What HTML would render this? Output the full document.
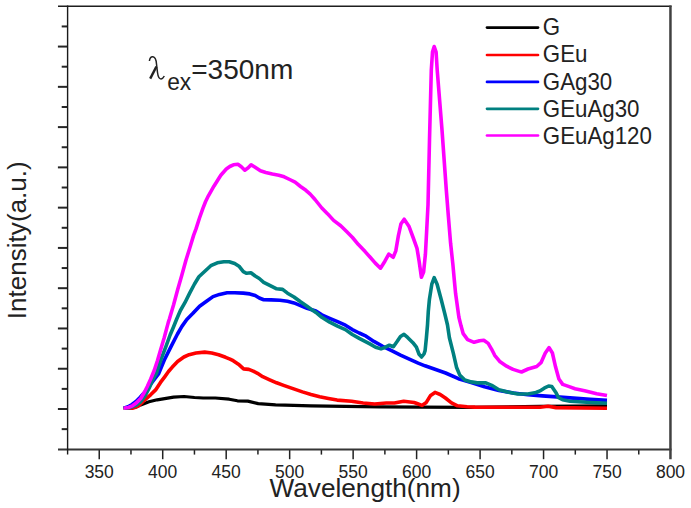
<!DOCTYPE html>
<html><head><meta charset="utf-8"><style>
html,body{margin:0;padding:0;background:#fff;}
body{width:691px;height:508px;overflow:hidden;position:relative;}
svg{position:absolute;left:0;top:0;font-family:"Liberation Sans",sans-serif;}
</style></head><body>
<svg width="691" height="508" viewBox="0 0 691 508">
<g stroke="#262626" stroke-width="2" fill="none">
<line x1="61.7" y1="26.44" x2="67.6" y2="26.44"/><line x1="57.9" y1="46.57" x2="67.6" y2="46.57"/><line x1="61.7" y1="66.70" x2="67.6" y2="66.70"/><line x1="57.9" y1="86.84" x2="67.6" y2="86.84"/><line x1="61.7" y1="106.98" x2="67.6" y2="106.98"/><line x1="57.9" y1="127.11" x2="67.6" y2="127.11"/><line x1="61.7" y1="147.25" x2="67.6" y2="147.25"/><line x1="57.9" y1="167.38" x2="67.6" y2="167.38"/><line x1="61.7" y1="187.52" x2="67.6" y2="187.52"/><line x1="57.9" y1="207.65" x2="67.6" y2="207.65"/><line x1="61.7" y1="227.79" x2="67.6" y2="227.79"/><line x1="57.9" y1="247.92" x2="67.6" y2="247.92"/><line x1="61.7" y1="268.06" x2="67.6" y2="268.06"/><line x1="57.9" y1="288.19" x2="67.6" y2="288.19"/><line x1="61.7" y1="308.33" x2="67.6" y2="308.33"/><line x1="57.9" y1="328.46" x2="67.6" y2="328.46"/><line x1="61.7" y1="348.60" x2="67.6" y2="348.60"/><line x1="57.9" y1="368.73" x2="67.6" y2="368.73"/><line x1="61.7" y1="388.87" x2="67.6" y2="388.87"/><line x1="57.9" y1="409.00" x2="67.6" y2="409.00"/><line x1="61.7" y1="429.14" x2="67.6" y2="429.14"/>
</g>
<g stroke="#222" stroke-width="1.5" fill="none">
<line x1="99.24" y1="449.5" x2="99.24" y2="459.2"/><line x1="130.97" y1="449.5" x2="130.97" y2="454.6"/><line x1="162.71" y1="449.5" x2="162.71" y2="459.2"/><line x1="194.45" y1="449.5" x2="194.45" y2="454.6"/><line x1="226.19" y1="449.5" x2="226.19" y2="459.2"/><line x1="257.93" y1="449.5" x2="257.93" y2="454.6"/><line x1="289.66" y1="449.5" x2="289.66" y2="459.2"/><line x1="321.40" y1="449.5" x2="321.40" y2="454.6"/><line x1="353.14" y1="449.5" x2="353.14" y2="459.2"/><line x1="384.88" y1="449.5" x2="384.88" y2="454.6"/><line x1="416.61" y1="449.5" x2="416.61" y2="459.2"/><line x1="448.35" y1="449.5" x2="448.35" y2="454.6"/><line x1="480.09" y1="449.5" x2="480.09" y2="459.2"/><line x1="511.83" y1="449.5" x2="511.83" y2="454.6"/><line x1="543.56" y1="449.5" x2="543.56" y2="459.2"/><line x1="575.30" y1="449.5" x2="575.30" y2="454.6"/><line x1="607.04" y1="449.5" x2="607.04" y2="459.2"/><line x1="638.77" y1="449.5" x2="638.77" y2="454.6"/>
</g>
<line x1="58" y1="6.3" x2="671.5" y2="6.3" stroke="#1e1e1e" stroke-width="1.5"/>
<line x1="58" y1="449.5" x2="671.5" y2="449.5" stroke="#353535" stroke-width="2.1"/>
<line x1="67.6" y1="5.6" x2="67.6" y2="454.5" stroke="#1a1a1a" stroke-width="1.4"/>
<line x1="670.45" y1="5.6" x2="670.45" y2="459.2" stroke="#404040" stroke-width="2.5"/>
<g fill="none" stroke-width="3.6" stroke-linejoin="round" stroke-linecap="butt">
<polyline stroke="#000" stroke-width="3.2" points="123.7,408.2 130.0,407.8 135.9,407.0 140.7,404.9 149.0,401.8 157.2,399.8 163.2,398.8 173.6,397.2 184.0,396.5 194.5,397.5 203.2,398.0 215.3,398.0 229.2,399.2 237.4,400.8 247.8,401.1 258.2,403.6 275.6,404.8 285.0,405.1 311.0,405.8 345.0,406.3 380.0,406.8 420.0,407.1 470.0,407.4 540.0,406.3 607.0,405.8"/>
<polyline stroke="#ff0000" points="123.7,408.2 128.0,408.3 132.4,408.2 136.0,407.0 139.0,405.6 144.8,399.8 150.6,394.8 155.6,389.9 160.5,382.4 164.7,376.8 168.5,371.5 172.1,367.3 177.6,361.5 183.9,357.0 189.1,354.7 196.0,353.0 204.7,352.1 211.7,353.0 218.6,354.7 225.6,357.3 230.0,359.1 233.2,360.7 238.4,364.2 243.6,368.9 248.8,369.4 253.2,371.1 257.5,373.3 262.7,376.7 269.7,379.8 276.6,382.8 283.6,385.4 293.7,388.9 302.4,391.9 311.0,394.5 319.7,396.7 328.4,398.4 337.1,400.1 351.6,401.3 363.1,403.0 374.7,404.0 386.3,403.0 394.4,403.0 403.7,401.3 414.1,402.5 417.0,403.5 421.9,405.4 426.3,402.4 430.6,395.4 435.0,392.4 440.2,394.5 445.4,398.0 451.5,402.8 457.5,405.8 467.1,406.7 475.0,407.1 540.0,407.3 548.0,406.3 556.0,407.6 607.0,408.3"/>
<polyline stroke="#0000ff" points="123.7,408.2 128.0,406.8 132.0,404.5 136.0,401.5 140.0,397.5 144.5,392.5 149.0,386.5 153.5,380.5 158.7,373.6 164.2,360.2 170.5,347.6 177.5,334.0 181.9,326.4 186.8,319.5 192.7,313.6 199.6,306.2 206.5,301.3 213.0,296.6 219.5,294.4 227.1,292.8 234.7,292.8 243.3,293.1 249.8,293.9 255.2,295.5 259.3,298.0 263.7,299.7 271.2,299.9 279.9,300.2 287.5,301.3 294.0,302.9 300.5,305.6 307.0,308.3 315.9,310.9 321.8,314.8 329.7,318.3 337.5,321.7 345.4,325.2 352.3,329.6 359.2,333.0 365.0,335.6 373.9,341.4 382.7,346.3 391.6,350.7 400.5,355.1 409.3,359.1 418.2,363.1 425.0,365.8 432.8,368.5 445.6,373.0 458.4,378.7 471.2,382.6 484.5,386.8 498.9,390.4 513.4,393.0 527.9,394.7 542.4,395.9 556.8,396.9 570.0,397.9 590.0,399.4 607.0,400.4"/>
<polyline stroke="#008080" points="123.7,408.2 130.0,407.6 136.0,405.3 140.7,401.8 145.0,396.0 149.0,388.5 152.0,381.5 154.2,377.0 156.3,373.6 161.0,359.4 165.8,346.8 170.1,335.0 173.5,327.0 176.5,319.5 180.4,310.5 184.9,302.7 189.8,292.9 194.5,284.0 198.9,276.8 204.3,271.7 210.8,265.7 217.3,262.8 223.8,261.7 229.2,261.7 234.7,263.5 239.0,266.2 243.3,271.7 246.6,273.3 250.9,272.7 255.2,276.0 259.3,278.5 263.7,282.3 270.2,285.6 276.7,288.8 282.6,289.4 287.5,293.2 294.0,297.0 300.5,301.8 307.0,306.2 310.0,308.4 315.9,312.4 321.8,317.3 329.7,322.2 337.5,326.1 345.4,329.6 352.3,334.5 359.2,338.4 365.0,341.4 370.3,344.1 375.6,347.2 381.0,348.9 385.4,347.2 389.4,345.2 393.4,346.7 396.9,341.8 400.5,336.5 404.0,334.3 407.6,337.4 412.9,342.7 416.4,347.2 419.1,354.3 421.6,357.0 424.0,354.0 425.1,350.6 426.4,337.8 427.5,325.0 428.3,311.3 429.4,299.5 431.8,284.2 434.2,277.7 437.1,284.2 441.2,299.5 444.8,313.7 447.5,325.0 449.4,337.8 453.3,353.1 456.5,367.2 459.7,374.9 464.8,380.0 471.2,381.9 477.2,382.9 485.9,382.9 491.7,385.3 498.9,389.7 507.6,392.1 517.8,394.0 527.9,394.0 536.0,392.5 539.9,390.9 544.2,388.2 548.6,386.0 551.8,386.6 556.2,393.1 558.3,397.4 562.6,399.8 570.0,401.2 590.6,402.5 607.0,403.3"/>
<polyline stroke="#ff00ff" points="123.7,408.2 128.3,407.5 132.4,405.8 136.5,402.8 140.7,398.5 144.0,393.0 147.3,386.5 150.6,379.3 154.2,370.5 157.5,360.5 160.1,351.5 164.2,337.7 168.3,322.4 169.4,319.0 173.6,304.8 177.7,289.5 181.8,275.3 186.0,260.0 190.0,247.2 193.6,235.4 196.0,228.9 199.5,218.0 202.9,208.4 205.6,201.5 208.4,195.8 213.9,186.2 220.8,175.2 226.3,169.0 229.8,166.5 233.4,164.8 237.9,164.3 241.3,166.8 244.8,170.2 248.2,167.8 251.1,164.8 255.1,167.3 260.4,170.8 265.8,172.5 272.3,174.1 278.8,175.2 284.2,176.8 289.7,179.5 295.1,182.2 300.5,186.5 305.9,190.3 310.2,194.1 315.0,199.5 321.8,208.0 327.7,213.9 333.6,220.4 340.7,225.7 346.6,231.6 352.5,237.5 358.4,244.6 365.1,251.6 370.2,257.3 375.3,263.1 380.5,268.2 384.9,261.2 388.8,254.1 393.2,257.3 395.8,250.9 398.4,235.6 400.9,224.1 404.2,219.2 408.9,226.2 413.3,238.0 417.0,248.4 419.2,261.7 421.4,277.2 423.6,272.0 425.4,254.3 426.6,232.1 428.0,205.0 429.5,140.0 431.3,70.0 432.5,52.0 434.2,46.5 436.1,52.0 437.2,70.0 442.0,130.0 446.3,190.0 448.4,216.6 450.6,243.3 452.9,264.6 454.3,280.0 455.6,293.6 458.9,317.2 461.1,326.1 463.2,333.7 467.6,339.6 474.1,342.3 479.5,340.7 483.8,340.2 488.2,343.4 491.4,348.8 494.7,355.3 500.1,361.8 506.6,366.2 513.1,369.4 520.0,371.6 521.5,372.0 528.0,369.0 536.7,366.5 541.0,362.7 545.3,353.0 549.1,347.6 552.4,353.0 555.6,367.1 558.9,379.0 562.7,384.4 569.2,386.6 575.0,388.7 584.6,390.8 596.7,393.8 607.0,395.6"/>
</g>
<g font-size="17.5" fill="#222">
<text x="99.24" y="477.6" text-anchor="middle">350</text><text x="162.71" y="477.6" text-anchor="middle">400</text><text x="226.19" y="477.6" text-anchor="middle">450</text><text x="289.66" y="477.6" text-anchor="middle">500</text><text x="353.14" y="477.6" text-anchor="middle">550</text><text x="416.61" y="477.6" text-anchor="middle">600</text><text x="480.09" y="477.6" text-anchor="middle">650</text><text x="543.56" y="477.6" text-anchor="middle">700</text><text x="607.04" y="477.6" text-anchor="middle">750</text><text x="670.51" y="477.6" text-anchor="middle">800</text>
</g>
<text transform="translate(269.5,496.6) scale(1.0,1)" font-size="26.2" fill="#222">Wavelength(nm)</text>
<text transform="translate(26.4,319.3) rotate(-90)" font-size="26.1" fill="#222">Intensity(a.u.)</text>
<path d="M149.4,61 C149.8,58 151.3,56.6 152.9,56.8 C155.4,57.2 156.2,60 156.5,64 L157.5,72.5 C158,76.5 159.4,79 161.1,78.9 C162.5,78.8 163.5,77.6 164.3,76" fill="none" stroke="#222" stroke-width="1.5"/>
<path d="M156.4,66.6 L150.2,78.6" fill="none" stroke="#222" stroke-width="2.4"/>
<text transform="translate(167.2,90.3) scale(0.93,1)" font-size="24.5" fill="#222">ex</text>
<text transform="translate(191.2,78.8) scale(1.03,1)" font-size="27.2" fill="#222">=350nm</text>
<g stroke-width="2.7" fill="none" stroke-linecap="round">
<line x1="487" y1="27.6" x2="538" y2="27.6" stroke="#000"/>
<line x1="487" y1="55" x2="538" y2="55" stroke="#ff0000"/>
<line x1="487" y1="81.9" x2="538" y2="81.9" stroke="#0000ff"/>
<line x1="487" y1="108.8" x2="538" y2="108.8" stroke="#008080"/>
<line x1="487" y1="135.5" x2="538" y2="135.5" stroke="#ff00ff"/>
</g>
<g font-size="23.6" fill="#222">
<text transform="translate(542.8,35.1) scale(0.945,1)">G</text>
<text transform="translate(542.8,62.3) scale(0.945,1)">GEu</text>
<text transform="translate(542.8,89.5) scale(0.945,1)">GAg30</text>
<text transform="translate(542.8,116.7) scale(0.945,1)">GEuAg30</text>
<text transform="translate(542.8,143.9) scale(0.945,1)">GEuAg120</text>
</g>
</svg>
</body></html>
